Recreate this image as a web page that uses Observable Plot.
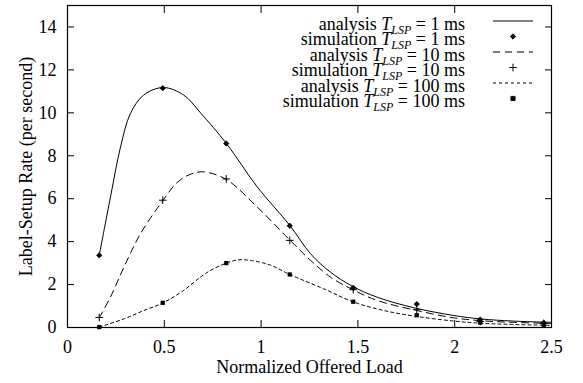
<!DOCTYPE html>
<html>
<head>
<meta charset="utf-8">
<script src="https://cdn.jsdelivr.net/npm/d3@7"></script>
<script src="https://cdn.jsdelivr.net/npm/@observablehq/plot@0.6"></script>
<style>
  html, body { margin: 0; padding: 0; background: white; }
  svg { display: block; }
</style>
</head>
<body>
<div id="chart"></div>
<script>
// ---- data ----
const xTicks = [0, 0.5, 1, 1.5, 2, 2.5];
const yTicks = [0, 2, 4, 6, 8, 10, 12, 14];

const simX = [0.164, 0.492, 0.82, 1.148, 1.476, 1.804, 2.132, 2.46];
const sim1 = [3.36, 11.15, 8.57, 4.74, 1.85, 1.09, 0.37, 0.22];
const sim10 = [0.47, 5.93, 6.92, 4.06, 1.76, 0.83, 0.28, 0.19];
const sim100 = [0.02, 1.15, 3.0, 2.47, 1.2, 0.57, 0.23, 0.1];

const ana1X = [0.164, 0.222, 0.274, 0.325, 0.394, 0.494, 0.60, 0.687, 0.821, 0.98, 1.148, 1.255, 1.358, 1.474, 1.60, 1.789, 1.995, 2.133, 2.30, 2.5];
const ana1Y = [3.36, 6.08, 8.41, 9.97, 10.83, 11.18, 10.83, 10.0, 8.57, 6.55, 4.76, 3.44, 2.58, 1.91, 1.41, 0.92, 0.56, 0.4, 0.3, 0.24];

const ana10X = [0.164, 0.222, 0.291, 0.377, 0.494, 0.566, 0.635, 0.704, 0.821, 0.98, 1.148, 1.255, 1.358, 1.474, 1.60, 1.80, 1.995, 2.133, 2.30, 2.5];
const ana10Y = [0.45, 1.42, 2.8, 4.37, 5.93, 6.75, 7.14, 7.25, 6.89, 5.61, 4.08, 3.13, 2.35, 1.76, 1.26, 0.8, 0.45, 0.32, 0.24, 0.19];

const ana100X = [0.164, 0.291, 0.394, 0.494, 0.60, 0.687, 0.739, 0.821, 0.88, 0.95, 1.05, 1.148, 1.324, 1.474, 1.634, 1.80, 1.995, 2.133, 2.30, 2.5];
const ana100Y = [0.02, 0.4, 0.79, 1.15, 1.73, 2.35, 2.66, 3.0, 3.15, 3.12, 2.9, 2.47, 1.8, 1.2, 0.79, 0.52, 0.3, 0.2, 0.14, 0.1];

const seriesLabels = ["analysis", "simulation", "analysis", "simulation", "analysis", "simulation"];
const seriesValues = ["1 ms", "1 ms", "10 ms", "10 ms", "100 ms", "100 ms"];

const xTitle = "Normalized Offered Load";
const yTitle = "Label-Setup Rate (per second)";

// ---- tables ----
const pts = (xs, ys) => xs.map((x, i) => ({x, y: ys[i]}));
const a1 = pts(ana1X, ana1Y), a10 = pts(ana10X, ana10Y), a100 = pts(ana100X, ana100Y);
const s1 = pts(simX, sim1), s10 = pts(simX, sim10), s100 = pts(simX, sim100);

const FONT = '"Liberation Serif", "Times New Roman", Times, serif';
const FS = 18;
const blank = () => "";
const plain = (d) => String(d);

const chart = Plot.plot({
  width: 583,
  height: 383,
  marginLeft: 67,
  marginRight: 32,
  marginTop: 5,
  marginBottom: 56,
  x: {domain: [0, 2.5]},
  y: {domain: [0, 15]},
  style: {fontFamily: FONT, fontSize: FS + "px", color: "black", background: "white", overflow: "visible"},
  marks: [
    // inward ticks on all four sides
    Plot.axisX({ticks: xTicks, tickSize: 7, dy: -7, tickFormat: blank, label: null}),
    Plot.axisX({anchor: "top", ticks: xTicks, tickSize: 7, dy: 7, tickFormat: blank, label: null}),
    Plot.axisY({ticks: yTicks, tickSize: 7, dx: 7, tickFormat: blank, label: null}),
    Plot.axisY({anchor: "right", ticks: yTicks, tickSize: 7, dx: -7, tickFormat: blank, label: null}),
    // tick labels
    Plot.axisX({ticks: xTicks, tickSize: 0, tickPadding: 13, label: null, fontSize: FS, tickFormat: plain}),
    Plot.axisY({ticks: yTicks, tickSize: 0, tickPadding: 11, label: null, fontSize: FS, tickFormat: plain}),
    // axis titles
    Plot.text([xTitle], {frameAnchor: "bottom", dy: 45, fontSize: FS, fill: "black", textAnchor: "middle"}),
    Plot.text([yTitle], {frameAnchor: "left", textAnchor: "middle", dx: -41, rotate: -90, fontSize: FS, fill: "black"}),
    // analysis curves
    Plot.line(a1, {x: "x", y: "y", stroke: "black", strokeWidth: 1, curve: "catmull-rom"}),
    Plot.line(a10, {x: "x", y: "y", stroke: "black", strokeWidth: 1, strokeDasharray: "7,5", curve: "catmull-rom"}),
    Plot.line(a100, {x: "x", y: "y", stroke: "black", strokeWidth: 1, strokeDasharray: "3,3", curve: "catmull-rom"}),
    // simulation points
    Plot.dot(s1, {x: "x", y: "y", symbol: "diamond2", fill: "black", stroke: "black", strokeWidth: 0.8, r: 2.4}),
    Plot.dot(s10, {x: "x", y: "y", symbol: "plus", stroke: "black", strokeWidth: 1, r: 2.6}),
    Plot.dot(s100, {x: "x", y: "y", symbol: "square", fill: "black", r: 2.4}),
    Plot.frame({stroke: "black", strokeWidth: 1.2})
  ]
});

// ---- legend (inside the plot, top right) ----
const svg = d3.select(chart);
const legend = svg.append("g").style("font-family", FONT).attr("font-size", FS).attr("fill", "black");
const textRight = 465, sampleX1 = 493, sampleX2 = 533, sampleMid = 513;
const baseline0 = 29.5, rowStep = 15.5;
const styles = [
  {type: "line", dash: null},
  {type: "sym", sym: d3.symbolDiamond2, size: 18, fill: true},
  {type: "line", dash: "7,5"},
  {type: "sym", sym: d3.symbolPlus, size: 21, fill: false},
  {type: "line", dash: "3,3"},
  {type: "sym", sym: d3.symbolSquare, size: 18, fill: true}
];
seriesLabels.forEach((lab, i) => {
  const by = baseline0 + i * rowStep;
  const t = legend.append("text").attr("x", textRight).attr("y", by).attr("text-anchor", "end");
  t.append("tspan").text(lab + " ");
  t.append("tspan").attr("font-style", "italic").text("T");
  t.append("tspan").attr("font-style", "italic").attr("font-size", 12).attr("dy", 4).text("LSP");
  t.append("tspan").attr("dy", -4).text(" = " + seriesValues[i]);
  const sy = by - 8.5;
  const st = styles[i];
  if (st.type === "line") {
    const l = legend.append("line").attr("x1", sampleX1).attr("x2", sampleX2)
      .attr("y1", sy).attr("y2", sy).attr("stroke", "black").attr("stroke-width", 1);
    if (st.dash) l.attr("stroke-dasharray", st.dash);
  } else {
    legend.append("path").attr("d", d3.symbol(st.sym, st.size)())
      .attr("transform", `translate(${sampleMid},${sy})`)
      .attr("fill", st.fill ? "black" : "none")
      .attr("stroke", "black").attr("stroke-width", st.fill ? 0.8 : 1);
  }
});

document.getElementById("chart").appendChild(chart);
</script>
</body>
</html>
